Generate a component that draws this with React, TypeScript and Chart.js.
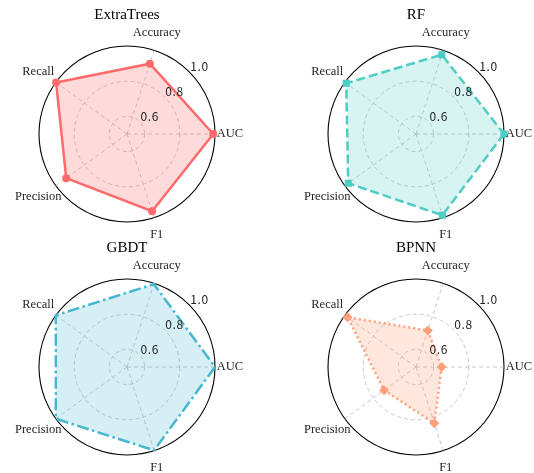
import React, { useEffect, useRef } from 'react';
import { Chart, registerables } from 'chart.js';

Chart.register(...registerables);

// Axes listed counter-clockwise starting at the right (east), as in the source figure
const categories = ['AUC', 'Accuracy', 'Recall', 'Precision', 'F1'];
const modelNames = ['ExtraTrees', 'RF', 'GBDT', 'BPNN'];
const extraTreesValues = [0.99, 0.92, 0.998, 0.927, 0.961];
const rfValues = [1.0, 0.974, 0.99, 0.976, 0.985];
const gbdtValues = [1.0, 0.995, 1.0, 1.0, 0.998];
const bpnnValues = [0.646, 0.718, 0.981, 0.724, 0.836];
const radialTicks = [0.6, 0.8, 1.0];
const radialTickLabels = ['0.6', '0.8', '1.0'];
const radialMin = 0.5;
const radialMax = 1.0;

const seriesValues = [extraTreesValues, rfValues, gbdtValues, bpnnValues];

// styles
const lineColors = ['#FF6B6B', '#4ECDC4', '#45B7D1', '#FFA07A'];
const fillColors = [
  'rgba(255,107,107,0.25)',
  'rgba(78,205,196,0.22)',
  'rgba(69,183,209,0.22)',
  'rgba(255,160,122,0.25)',
];
const dashes = [[], [9, 4], [12, 3.5, 2.5, 3.5], [2, 3]];
const pointStyles = ['circle', 'rect', 'circle', 'rectRot'];
const pointRadii = [4, 5, 0, 5];
const centers = [
  [127, 134],
  [416, 134],
  [127, 367],
  [416, 367],
];
const R = 88;
const W = 534;
const H = 473;

// Chart.js runs clockwise; reverse angular order so labels go counter-clockwise from east
const cwOrder = [0, 4, 3, 2, 1];

function RadarPanel({ idx }: { idx: number }) {
  const ref = useRef<HTMLCanvasElement | null>(null);
  useEffect(() => {
    const canvas = ref.current!;
    const [cx, cy] = centers[idx];
    const labels = cwOrder.map((i) => categories[i]);
    const data = cwOrder.map((i) => seriesValues[idx][i]);
    const textPlugin = {
      id: 'polarText' + idx,
      afterDatasetsDraw(chart: any) {
        const s = chart.scales.r;
        const ctx = chart.ctx;
        ctx.save();
        // radial tick labels along 45 degrees
        ctx.font = '12px "Noto Sans CJK SC", "DejaVu Sans", sans-serif';
        ctx.fillStyle = '#222';
        ctx.textAlign = 'left';
        ctx.textBaseline = 'bottom';
        try { ctx.letterSpacing = '0.6px'; } catch (e) {}
        radialTicks.forEach((v, k) => {
          const d = s.getDistanceFromCenterForValue(v);
          ctx.fillText(radialTickLabels[k], s.xCenter + d * Math.SQRT1_2 + 1, s.yCenter - d * Math.SQRT1_2 + 1);
        });
        try { ctx.letterSpacing = '0px'; } catch (e) {}
        // point labels
        ctx.font = '12.5px "Liberation Serif", "Times New Roman", serif';
        ctx.fillStyle = '#262626';
        ctx.textAlign = 'center';
        ctx.textBaseline = 'middle';
        labels.forEach((lab: string, i: number) => {
          const p = s.getPointPosition(i, s.drawingArea + 18);
          ctx.fillText(lab, p.x - 3, p.y);
        });
        // title
        ctx.font = '15px "Liberation Serif", "Times New Roman", serif';
        ctx.fillStyle = '#000';
        ctx.fillText(modelNames[idx], s.xCenter, s.yCenter - s.drawingArea - 31);
        ctx.restore();
      },
    };
    const chart = new Chart(canvas, {
      type: 'radar',
      data: {
        labels,
        datasets: [
          {
            data,
            borderColor: lineColors[idx],
            backgroundColor: fillColors[idx],
            borderWidth: 2.5,
            borderDash: dashes[idx],
            fill: true,
            tension: 0,
            pointStyle: pointStyles[idx] as any,
            pointRadius: pointRadii[idx],
            pointBackgroundColor: lineColors[idx],
            pointBorderColor: lineColors[idx],
            pointBorderWidth: 0,
          },
        ],
      },
      options: {
        responsive: false,
        animation: false,
        layout: {
          padding: { left: cx - R, top: cy - R, right: W - cx - R, bottom: H - cy - R },
        },
        plugins: {
          legend: { display: false },
          tooltip: { enabled: false },
          title: { display: false },
        },
        scales: {
          r: {
            min: radialMin,
            max: radialMax,
            startAngle: 90,
            afterBuildTicks: (sc: any) => {
              sc.ticks = [radialMin, ...radialTicks].map((v) => ({ value: v }));
            },
            ticks: { display: false },
            pointLabels: { display: false },
            grid: {
              circular: true,
              color: (c: any) => (c.tick && c.tick.value >= radialMax ? '#000' : 'rgba(170,170,170,0.8)'),
              lineWidth: (c: any) => (c.tick && c.tick.value >= radialMax ? 1.1 : 0.8),
            },
            border: {
              dash: (c: any) => (c.tick && c.tick.value >= radialMax ? [] : [4, 3]),
            },
            angleLines: {
              color: 'rgba(170,170,170,0.8)',
              lineWidth: 0.8,
              borderDash: [4, 3],
            },
          },
        },
      },
      plugins: [textPlugin],
    } as any);
    return () => chart.destroy();
  }, [idx]);
  return (
    <canvas
      ref={ref}
      width={W}
      height={H}
      style={{ position: 'absolute', left: 0, top: 0, width: W, height: H }}
    />
  );
}

export default function App() {
  useEffect(() => {
    document.body.style.margin = '0';
  }, []);
  return (
    <div style={{ position: 'relative', width: W, height: H, background: '#fff' }}>
      {modelNames.map((_, i) => (
        <RadarPanel key={i} idx={i} />
      ))}
    </div>
  );
}
